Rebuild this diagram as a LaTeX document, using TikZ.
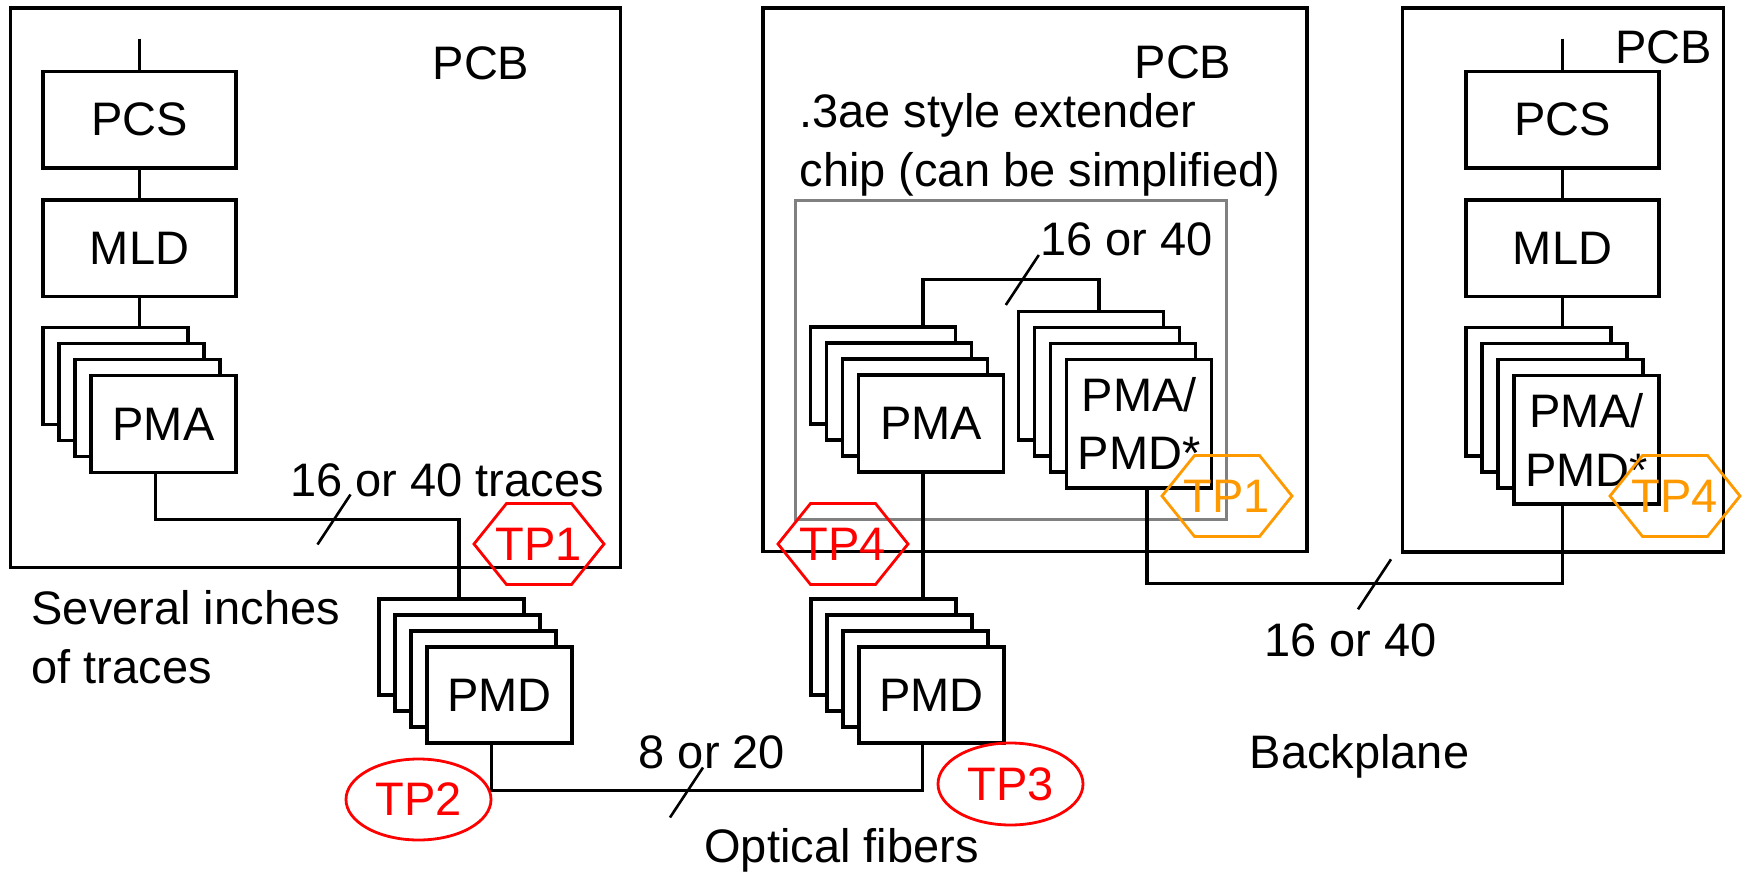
\documentclass[tikz,border=0pt]{standalone}
\usepackage{fontspec}
\setmainfont{Liberation Sans}
\usetikzlibrary{shapes.geometric,calc}
\definecolor{tpred}{RGB}{255,0,0}
\definecolor{tporange}{RGB}{255,153,0}
\definecolor{chipgray}{RGB}{128,128,128}
\begin{document}
\begin{tikzpicture}[x=1pt,y=-1pt,
  every node/.style={font=\fontsize{47}{58.5}\selectfont, inner sep=0pt, outer sep=0pt},
  pcbbox/.style={draw, line width=3.4pt, anchor=north west},
  blk/.style={draw, line width=3.4pt, fill=white, anchor=north west, minimum width=193pt, minimum height=96.5pt},
  card/.style={draw, line width=3.4pt, fill=white, anchor=north west, minimum width=145pt, minimum height=97pt},
  tallcard/.style={card, minimum height=128.5pt, align=center},
  wire/.style={line width=3.4pt},
  slash/.style={line width=2.6pt},
  hexa/.style={insert path={++(-65,0) -- ++(32.5,-40.5) -- ++(65,0) -- ++(32.5,40.5) -- ++(-32.5,40.5) -- ++(-65,0) -- cycle}},
  tpshape/.style={line width=2.8pt}
]
\useasboundingbox (0,0) rectangle (1743,872);

% PCB boards
\node[pcbbox, minimum width=610pt, minimum height=559.4pt] (pcbL) at (10.4,7.9) {};
\node[pcbbox, minimum width=544pt, minimum height=543.8pt] (pcbM) at (763,7.9) {};
\node[pcbbox, minimum width=321pt, minimum height=543.9pt] (pcbR) at (1402.3,7.9) {};
\node[draw=chipgray, line width=3pt, anchor=north west, minimum width=431.3pt, minimum height=319.5pt] (chip) at (795,200) {};

% Left board
\node[blk] (pcsL) at (43,71.4) {PCS};
\node[blk] (mldL) at (43,200) {MLD};
\node[card] (pmaL3) at (43,327.5) {};
\node[card] (pmaL2) at (59,343.5) {};
\node[card] (pmaL1) at (75,359.5) {};
\node[card] (pmaL) at (91,375.5) {PMA};

% Left PMD
\node[card, minimum height=96pt] (pmdL3) at (379,599) {};
\node[card, minimum height=96pt] (pmdL2) at (395,615) {};
\node[card, minimum height=96pt] (pmdL1) at (411,631) {};
\node[card, minimum height=96pt] (pmdL) at (427,647) {PMD};

% Middle PMD
\node[card, minimum height=96pt] (pmdR3) at (811,599) {};
\node[card, minimum height=96pt] (pmdR2) at (827,615) {};
\node[card, minimum height=96pt] (pmdR1) at (843,631) {};
\node[card, minimum height=96pt] (pmdR) at (859,647) {PMD};

% Middle board: extender chip
\node[card] (pmaM3) at (810.5,327) {};
\node[card] (pmaM2) at (826.5,343) {};
\node[card] (pmaM1) at (842.5,359) {};
\node[card] (pmaM) at (858.5,375) {PMA};
\node[tallcard] (ppM3) at (1018.7,311.4) {};
\node[tallcard] (ppM2) at (1034.7,327.4) {};
\node[tallcard] (ppM1) at (1050.7,343.4) {};
\node[tallcard] (ppM) at (1066.7,359.4) {PMA/\\PMD*};

% Right board
\node[blk] (pcsR) at (1466,71.4) {PCS};
\node[blk] (mldR) at (1466,200) {MLD};
\node[tallcard] (ppR3) at (1466,327.5) {};
\node[tallcard] (ppR2) at (1482,343.5) {};
\node[tallcard] (ppR1) at (1498,359.5) {};
\node[tallcard] (ppR) at (1514,375.5) {PMA/\\PMD*};

% Connectors
\coordinate (stubL) at (139.5,38.6);
\coordinate (stubR) at (1562.5,38.6);
\coordinate (jL) at (459,519.5);
\coordinate (jO) at (922.4,790.7);
\coordinate (jB) at (1099,279.6);
\coordinate (jP) at (1562.7,583.3);

\draw[wire] (stubL) -- (pcsL.north);
\draw[wire] (pcsL) -- (mldL);
\draw[wire] (mldL.south) -- (mldL.south |- pmaL3.north);
\draw[wire] ([xshift=64.6pt]pmaL.south west) |- (jL) -- (jL |- pmdL3.north);
\draw[wire] ([xshift=64.3pt]pmdL.south west) |- (jO) -- (jO |- pmdR.south);
\draw[wire] ([xshift=64.5pt]pmaM.south west) coordinate (aM) -- (aM |- pmdR3.north);
\draw[wire] ([xshift=112.5pt]pmaM3.north west) |- (jB) -- (jB |- ppM3.north);
\draw[wire] ([xshift=80.3pt]ppM.south west) |- (jP) -- (jP |- ppR.south);
\draw[wire] (stubR) -- (pcsR.north);
\draw[wire] (pcsR) -- (mldR);
\draw[wire] (mldR.south) -- (mldR.south |- ppR3.north);

% Bus slashes
\coordinate (sL) at (334,519.5);
\coordinate (sO) at (686.5,792.5);
\coordinate (sM) at (1022.3,280);
\coordinate (sP) at (1374.5,584.3);
\foreach \s in {sL,sO,sM,sP}{
  \draw[slash] ($(\s)+(16.5,-25)$) -- ($(\s)+(-16.5,25)$);
}

% Test points
\node[text=tpred] (tp1L) at (539,544) {TP1};
\draw[tpshape, tpred] (tp1L.center) [hexa];
\node[text=tpred] (tp4M) at (843,544) {TP4};
\draw[tpshape, tpred] (tp4M.center) [hexa];
\node[text=tporange] (tp1M) at (1227,496) {TP1};
\draw[tpshape, tporange] (tp1M.center) [hexa];
\node[text=tporange] (tp4R) at (1675,496) {TP4};
\draw[tpshape, tporange] (tp4R.center) [hexa];
\node[draw=tpred, text=tpred, ellipse, line width=2.8pt, minimum width=145pt, minimum height=81pt] (tp2) at (418.5,799.5) {TP2};
\node[draw=tpred, text=tpred, ellipse, line width=2.8pt, minimum width=145pt, minimum height=82pt] (tp3) at (1010.5,784) {TP3};

% Labels
\node[anchor=base] (pcbLt) at (481,80) {PCB};
\node[anchor=base] (pcbMt) at (1183,79) {PCB};
\node[anchor=base] (pcbRt) at (1663.7,63.6) {PCB};
\node[anchor=base west, align=left] (ext) at (799.5,186) {.3ae style extender\\chip (can be simplified)};
\node[anchor=base] (l16t) at (447,496) {16 or 40 traces};
\node[anchor=base] (l16m) at (1126.4,255) {16 or 40};
\node[anchor=base west, align=left] (sev) at (31.6,683) {Several inches\\of traces};
\node[anchor=base] (l8) at (712,768) {8 or 20};
\node[anchor=base] (opt) at (841.5,862) {Optical fibers};
\node[anchor=base] (l16b) at (1350.5,656.7) {16 or 40};
\node[anchor=base] (bp) at (1359.5,768) {Backplane};
\end{tikzpicture}
\end{document}
